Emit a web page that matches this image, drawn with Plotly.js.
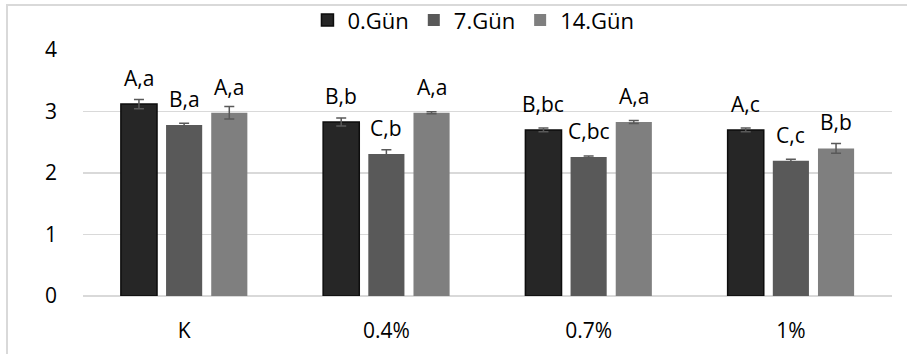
<!DOCTYPE html>
<html>
<head>
<meta charset="utf-8">
<script src="https://cdn.plot.ly/plotly-3.0.1.min.js"></script>
<style>
  html, body { margin: 0; padding: 0; background: #fff; }
  #wrap { position: relative; width: 907px; height: 354px; }
  #chart { position: absolute; left: 0; top: 0; width: 907px; height: 354px; }
  #frame { position: absolute; left: 6px; top: 4px; width: 920px; height: 400px;
           border-left: 2px solid #d9d9d9; border-top: 2px solid #d9d9d9; pointer-events: none; }
</style>
</head>
<body>
<div id="wrap">
  <div id="chart"></div>
  <div id="frame"></div>
</div>
<script>
const categories = ['K', '0.4%', '0.7%', '1%'];
const seriesNames = ['0.Gün', '7.Gün', '14.Gün'];
const day0 = [3.12, 2.83, 2.70, 2.70];
const day7 = [2.78, 2.31, 2.26, 2.20];
const day14 = [2.98, 2.98, 2.83, 2.40];
const err0 = [0.075, 0.065, 0.03, 0.03];
const err7 = [0.03, 0.07, 0.015, 0.025];
const err14 = [0.10, 0.015, 0.025, 0.08];
const labels0 = ['A,a', 'B,b', 'B,bc', 'A,c'];
const labels7 = ['B,a', 'C,b', 'C,bc', 'C,c'];
const labels14 = ['A,a', 'A,a', 'A,a', 'B,b'];

const colors = ['#262626', '#595959', '#7f7f7f'];
const values = [day0, day7, day14];
const errs = [err0, err7, err14];
const labs = [labels0, labels7, labels14];
const bargap = 0.33;
const font = '"Open Sans", "Noto Sans", sans-serif';

const traces = values.map((v, j) => ({
  type: 'bar',
  name: seriesNames[j],
  x: categories,
  y: v,
  marker: { color: colors[j], line: { color: j === 0 ? '#0d0d0d' : colors[j], width: j === 0 ? 1.5 : 0 } },
  error_y: { type: 'data', array: errs[j], visible: true, color: '#595959', thickness: 1.5, width: 5 }
}));

const slot = (1 - bargap) / 3;
const annotations = [];
values.forEach((v, j) => {
  v.forEach((val, i) => {
    annotations.push({
      x: i + (j - 1) * slot, y: val, xref: 'x', yref: 'y',
      text: labs[j][i], showarrow: false, yanchor: 'bottom', yshift: 10,
      font: { family: font, size: 21, color: '#000' }
    });
  });
});

const layout = {
  width: 907, height: 354,
  margin: { l: 83, r: 15, t: 50, b: 58, autoexpand: false },
  paper_bgcolor: 'rgba(0,0,0,0)', plot_bgcolor: 'rgba(0,0,0,0)',
  barmode: 'group', bargap: bargap, bargroupgap: 0.2,
  font: { family: font, size: 21, color: '#000' },
  showlegend: true,
  legend: { orientation: 'h', xref: 'container', yref: 'container',
            x: 0.522, xanchor: 'center', y: 0.943, yanchor: 'middle',
            itemwidth: 30, tracegroupgap: 0,
            font: { family: font, size: 22, color: '#000' }, bgcolor: 'rgba(0,0,0,0)' },
  xaxis: { type: 'category', tickfont: { family: font, size: 21, color: '#000' },
           ticks: '', ticklabelstandoff: 20, showgrid: false, showline: false, zeroline: false },
  yaxis: { range: [0, 4], dtick: 1, tickfont: { family: font, size: 21, color: '#000' },
           ticks: '', ticklabelstandoff: 25, showgrid: true, gridcolor: '#d9d9d9', gridwidth: 1.5,
           zeroline: true, zerolinecolor: '#d9d9d9', zerolinewidth: 2, showline: false },
  annotations: annotations
};

Plotly.newPlot('chart', traces, layout, { displayModeBar: false, staticPlot: true });
</script>
</body>
</html>
